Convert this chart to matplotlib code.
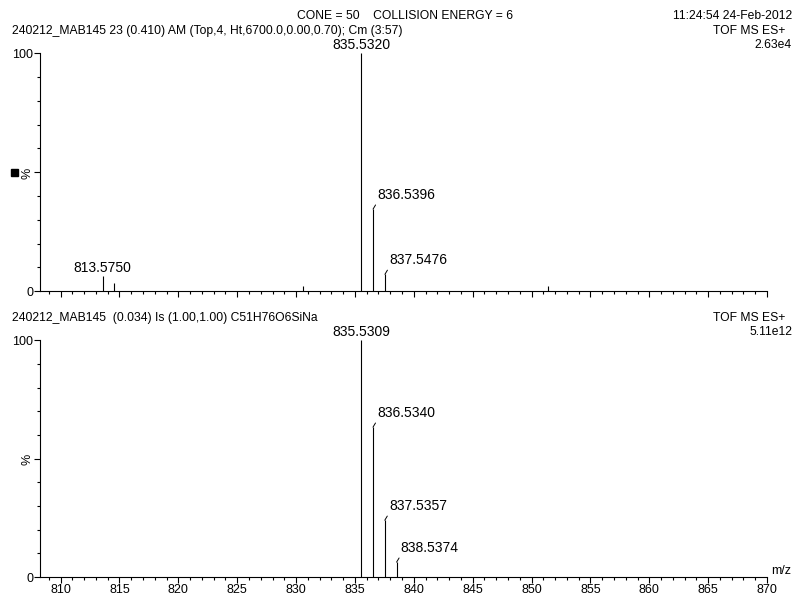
import matplotlib
matplotlib.use('Agg')
import matplotlib.pyplot as plt
from matplotlib.ticker import MultipleLocator
from matplotlib.patches import Rectangle

plt.rcParams['font.family'] = ['Liberation Sans', 'DejaVu Sans']

# measured spectrum (top) and isotope model (bottom), relative intensity %
top_mz = [813.575, 814.5, 830.55, 835.532, 836.5396, 837.5476, 851.38]
top_int = [6.3, 3.4, 2.0, 100.0, 34.5, 7.1, 2.0]
top_labels = {813.575: '813.5750', 835.532: '835.5320',
              836.5396: '836.5396', 837.5476: '837.5476'}

bot_mz = [835.5309, 836.534, 837.5357, 838.5374]
bot_int = [100.0, 63.3, 24.0, 6.3]
bot_labels = {835.5309: '835.5309', 836.534: '836.5340',
              837.5357: '837.5357', 838.5374: '838.5374'}
# labels centred above the peak (others get a small leader line)
centred = [813.575, 835.532, 835.5309]

xticks = [810, 815, 820, 825, 830, 835, 840, 845, 850, 855, 860, 865, 870]

fig = plt.figure(figsize=(7.99, 5.98), dpi=100)
ax1 = fig.add_axes([0.050, 0.513, 0.910, 0.398])
ax2 = fig.add_axes([0.050, 0.035, 0.910, 0.396])


def drawSpectrum(ax, mz, inten, labels, showX):
    ax.vlines(mz, 0, inten, colors='black', lw=0.8)
    for m, h in zip(mz, inten):
        if m not in labels:
            continue
        if m in centred:
            ax.annotate(labels[m], xy=(m, h), xytext=(0, 1), textcoords='offset points',
                        ha='center', va='bottom', fontsize=10)
        else:
            ax.annotate(labels[m], xy=(m, h), xytext=(3, 5), textcoords='offset points',
                        ha='left', va='bottom', fontsize=10,
                        arrowprops=dict(arrowstyle='-', lw=0.7, color='black',
                                        shrinkA=0, shrinkB=0, relpos=(0, 0)))
    ax.set_xlim(808.25, 870)
    ax.set_ylim(0, 100)
    for s in ['top', 'right']:
        ax.spines[s].set_visible(False)
    ax.spines['left'].set_linewidth(0.8)
    ax.spines['bottom'].set_linewidth(0.8)
    ax.set_xticks(xticks)
    ax.xaxis.set_minor_locator(MultipleLocator(1))
    ax.set_yticks([0, 50, 100])
    ax.set_yticklabels(['0', '%', '100'])
    ax.get_yticklabels()[1].set_rotation(90)
    ax.yaxis.set_minor_locator(MultipleLocator(10))
    ax.tick_params(axis='both', which='major', direction='out', length=4, width=0.8,
                   labelsize=9, pad=1)
    ax.tick_params(axis='both', which='minor', direction='out', length=2, width=0.8)
    if not showX:
        ax.tick_params(axis='x', labelbottom=False)


drawSpectrum(ax1, top_mz, top_int, top_labels, False)
drawSpectrum(ax2, bot_mz, bot_int, bot_labels, True)

ax2.text(1.005, 0.0, 'm/z', transform=ax2.transAxes, fontsize=9, va='bottom', ha='left')

# header texts
hs = 8.7
fig.text(405 / 799, 1 - 16 / 598, 'CONE = 50    COLLISION ENERGY = 6', fontsize=hs, ha='center', va='center')
fig.text(792 / 799, 1 - 16 / 598, '11:24:54 24-Feb-2012', fontsize=hs, ha='right', va='center')
fig.text(12 / 799, 1 - 31 / 598, '240212_MAB145 23 (0.410) AM (Top,4, Ht,6700.0,0.00,0.70); Cm (3:57)',
         fontsize=hs, ha='left', va='center')
fig.text(785 / 799, 1 - 31 / 598, 'TOF MS ES+', fontsize=hs, ha='right', va='center')
fig.text(792 / 799, 1 - 45 / 598, '2.63e4', fontsize=hs, ha='right', va='center')
fig.text(12 / 799, 1 - 318 / 598, '240212_MAB145  (0.034) Is (1.00,1.00) C51H76O6SiNa',
         fontsize=hs, ha='left', va='center')
fig.text(785 / 799, 1 - 318 / 598, 'TOF MS ES+', fontsize=hs, ha='right', va='center')
fig.text(792 / 799, 1 - 332 / 598, '5.11e12', fontsize=hs, ha='right', va='center')

# little black marker left of the top panel
fig.patches.append(Rectangle((11 / 799, 1 - 176 / 598), 7 / 799, 7 / 598,
                             transform=fig.transFigure, color='black'))

fig.savefig('out.png', dpi=100)
